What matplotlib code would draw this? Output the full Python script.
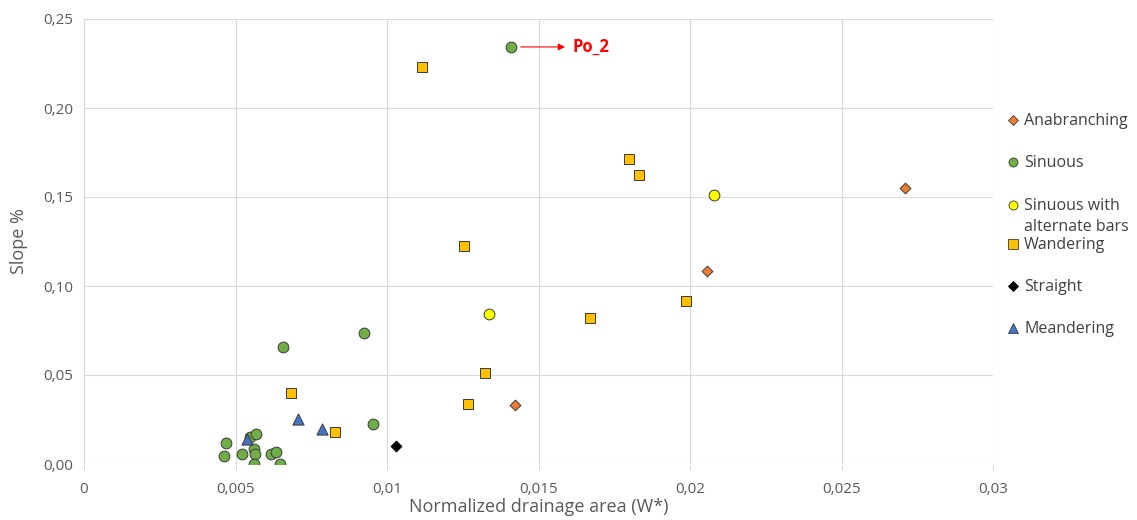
import matplotlib
matplotlib.use("Agg")
import matplotlib.pyplot as plt
from matplotlib.ticker import FuncFormatter, MultipleLocator
from matplotlib.lines import Line2D

plt.rcParams['font.family'] = ['Open Sans', 'DejaVu Sans']

anab_x = [0.0271, 0.02056, 0.01422]
anab_y = [0.155, 0.1084, 0.0331]

sin_x = [0.01409, 0.00657, 0.00924, 0.00954, 0.00469, 0.00462, 0.0052, 0.00548,
         0.00568, 0.00561, 0.00564, 0.00562, 0.00617, 0.00634, 0.00647]
sin_y = [0.2343, 0.0657, 0.0736, 0.0225, 0.0116, 0.0045, 0.0056, 0.0150,
         0.0169, 0.0084, 0.0056, 0.0, 0.0056, 0.0066, 0.0]

sab_x = [0.0208, 0.01337]
sab_y = [0.1511, 0.0843]

wan_x = [0.01116, 0.01799, 0.01832, 0.01254, 0.01987, 0.0167, 0.01323, 0.01267, 0.00683, 0.00828]
wan_y = [0.2230, 0.1713, 0.1624, 0.1225, 0.0916, 0.0820, 0.0511, 0.0337, 0.0399, 0.0180]

str_x = [0.0103]
str_y = [0.0101]

mea_x = [0.00537, 0.00707, 0.00785]
mea_y = [0.0139, 0.0253, 0.0195]

W, H = 1137, 520
fig = plt.figure(figsize=(W/100, H/100), dpi=100)
ax = fig.add_axes([84/W, 1-464/H, (993-84)/W, (464-19)/H])

ec = '#3a3a3a'
series = [
    ('Anabranching', anab_x, anab_y, 'D', 30, '#ED7D31', ec, 3),
    ('Sinuous', sin_x, sin_y, 'o', 60, '#70AD47', ec, 3),
    ('Sinuous with\nalternate bars', sab_x, sab_y, 'o', 60, '#FFFF00', ec, 3),
    ('Wandering', wan_x, wan_y, 's', 60, '#FFC000', ec, 3),
    ('Straight', str_x, str_y, 'D', 30, '#000000', '#000000', 3),
    ('Meandering', mea_x, mea_y, '^', 65, '#4472C4', ec, 4),
]
for lab, xs, ys, m, s, fc, e, z in series:
    ax.scatter(xs, ys, marker=m, s=s, c=fc, edgecolors=e, linewidths=0.7, zorder=z)

ax.annotate('', xy=(0.01597, 0.2343), xytext=(0.01432, 0.2343),
            arrowprops=dict(arrowstyle='-|>', color='#FF0000', lw=0.8, mutation_scale=10))
ax.text(0.01612, 0.2343, 'Po_2', color='#FF0000', fontsize=12, fontweight='bold', va='center', ha='left')

ax.set_xlim(0, 0.03)
ax.set_ylim(0, 0.25)
ax.xaxis.set_major_locator(MultipleLocator(0.005))
ax.yaxis.set_major_locator(MultipleLocator(0.05))

def xfmt(v, p):
    if abs(v) < 1e-12:
        return '0'
    s = ('%.3f' % v).rstrip('0')
    return s.replace('.', ',')

ax.xaxis.set_major_formatter(FuncFormatter(xfmt))
ax.yaxis.set_major_formatter(FuncFormatter(lambda v, p: ('%.2f' % v).replace('.', ',')))

for s in ax.spines.values():
    s.set_visible(False)
ax.grid(True, color='#D9D9D9', lw=0.8)
ax.set_axisbelow(True)
ax.tick_params(axis='x', length=4, color='#D9D9D9', labelsize=11, labelcolor='#595959', pad=9)
ax.tick_params(axis='y', length=0, labelsize=11, labelcolor='#595959', pad=8)

ax.set_xlabel('Normalized drainage area (W*)', fontsize=13, color='#595959', labelpad=1)
ax.set_ylabel('Slope %', fontsize=13, color='#595959', labelpad=11)

# manual legend (marker aligned with first text line)
leg_y = [120, 162, 205, 244, 286, 328]
msizes = {'D': 5.0, 'o': 6.5, 's': 6.5, '^': 7.0}
for (lab, xs, ys, m, s, fc, e, z), py in zip(series, leg_y):
    fig.add_artist(Line2D([1013/W], [1-py/H], transform=fig.transFigure, marker=m,
                          markersize=msizes[m], markerfacecolor=fc, markeredgecolor=e,
                          markeredgewidth=0.6, linestyle='none'))
    fig.text(1024/W, 1-(py-7)/H, lab, fontsize=11.5, color='#404040', va='top', ha='left',
             linespacing=1.45)

fig.savefig('out.png', dpi=100)
